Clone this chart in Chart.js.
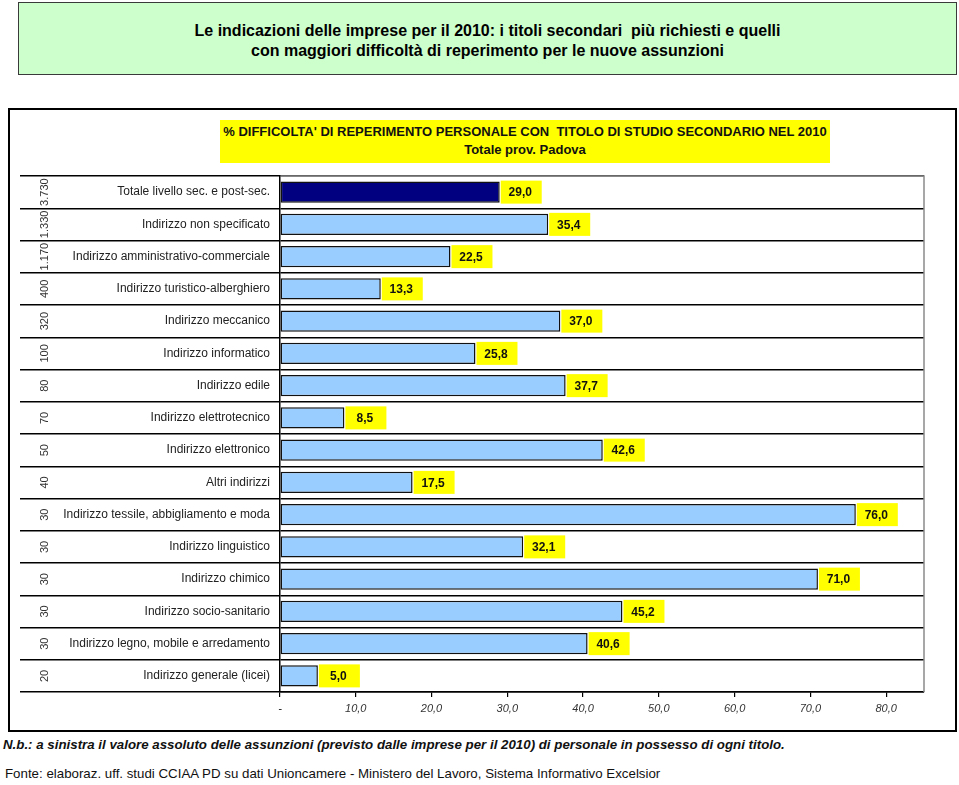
<!DOCTYPE html>
<html>
<head>
<meta charset="utf-8">
<script src="https://cdn.jsdelivr.net/npm/chart.js@4.4.1/dist/chart.umd.min.js"></script>
<style>
  html, body { margin: 0; padding: 0; background: #fff; }
  body { width: 959px; height: 785px; position: relative; overflow: hidden; font-family: "Liberation Sans", Arial, sans-serif; }
  #titlebox { position: absolute; left: 18px; top: 2px; width: 939px; height: 73px; box-sizing: border-box;
    background: #ccffcc; border: 1px solid #3a3a3a; text-align: center; font-weight: bold; font-size: 16px;
    color: #000; line-height: 20px; padding-top: 18px; }
  #frame { position: absolute; left: 8px; top: 108px; width: 949px; height: 624px; box-sizing: border-box; border: 2px solid #000; }
  #frame canvas { position: absolute; left: 0; top: 0; }
  #subtitle { position: absolute; left: 220px; top: 120px; width: 610px; height: 43px; background: #ffff00;
    text-align: center; font-weight: bold; font-size: 13px; line-height: 18px; padding-top: 3px; box-sizing: border-box; color: #111; }
  #nb { position: absolute; left: 3px; top: 737px; font-size: 13.3px; font-weight: bold; font-style: italic; color: #111; white-space: nowrap; }
  #fonte { position: absolute; left: 5px; top: 766px; font-size: 13.3px; color: #111; white-space: nowrap; }
</style>
</head>
<body>
<div id="titlebox">Le indicazioni delle imprese per il 2010: i titoli secondari&nbsp; più richiesti e quelli<br>con maggiori difficoltà di reperimento per le nuove assunzioni</div>
<div id="frame"><canvas id="c" width="945" height="620"></canvas></div>
<div id="subtitle">% DIFFICOLTA' DI REPERIMENTO PERSONALE CON&nbsp; TITOLO DI STUDIO SECONDARIO NEL 2010<br>Totale prov. Padova</div>
<div id="nb">N.b.: a sinistra il valore assoluto delle assunzioni (previsto dalle imprese per il 2010) di personale in possesso di ogni titolo.</div>
<div id="fonte">Fonte: elaboraz. uff. studi CCIAA PD su dati Unioncamere - Ministero del Lavoro, Sistema Informativo Excelsior</div>
<script>
const categories = [
  "Totale livello sec. e post-sec.",
  "Indirizzo non specificato",
  "Indirizzo amministrativo-commerciale",
  "Indirizzo turistico-alberghiero",
  "Indirizzo meccanico",
  "Indirizzo informatico",
  "Indirizzo edile",
  "Indirizzo elettrotecnico",
  "Indirizzo elettronico",
  "Altri indirizzi",
  "Indirizzo tessile, abbigliamento e moda",
  "Indirizzo linguistico",
  "Indirizzo chimico",
  "Indirizzo socio-sanitario",
  "Indirizzo legno, mobile e arredamento",
  "Indirizzo generale (licei)"
];
const difficoltaPct = [29.0, 35.4, 22.5, 13.3, 37.0, 25.8, 37.7, 8.5, 42.6, 17.5, 76.0, 32.1, 71.0, 45.2, 40.6, 5.0];
const assunzioni = ["3.730", "1.330", "1.170", "400", "320", "100", "80", "70", "50", "40", "30", "30", "30", "30", "30", "20"];
const xTicks = [0, 10, 20, 30, 40, 50, 60, 70, 80];

const fmt = v => v.toFixed(1).replace('.', ',');

const decorPlugin = {
  id: 'decor',
  beforeDatasetsDraw(chart) {
    const {ctx, chartArea: a} = chart;
    ctx.save();
    ctx.strokeStyle = '#8a8a8a';
    ctx.lineWidth = 1.5;
    ctx.beginPath();
    ctx.moveTo(a.left + 1, a.top);
    ctx.lineTo(a.right, a.top);
    ctx.lineTo(a.right, a.bottom);
    ctx.stroke();
    ctx.restore();
  },
  afterDatasetsDraw(chart) {
    const {ctx} = chart;
    const meta = chart.getDatasetMeta(0);
    const yScale = chart.scales.y;
    ctx.save();
    meta.data.forEach((bar, i) => {
      const x0 = bar.x + 1, yc = bar.y;
      const w = 41, h = 23;
      ctx.fillStyle = '#ffff00';
      ctx.fillRect(x0, yc - h / 2, w, h);
      ctx.fillStyle = '#111';
      ctx.font = 'bold 12px "Liberation Sans", Arial, sans-serif';
      ctx.textAlign = 'center';
      ctx.textBaseline = 'middle';
      ctx.fillText(fmt(difficoltaPct[i]), x0 + w / 2 - 1, yc + 1);
    });
    // rotated absolute values column
    ctx.font = '11px "Liberation Sans", Arial, sans-serif';
    ctx.fillStyle = '#333';
    ctx.textAlign = 'center';
    ctx.textBaseline = 'middle';
    assunzioni.forEach((t, i) => {
      const y = yScale.getPixelForValue(i);
      ctx.save();
      ctx.translate(35, y);
      ctx.rotate(-Math.PI / 2);
      ctx.fillText(t, 0, 0);
      ctx.restore();
    });
    ctx.restore();
  }
};

new Chart(document.getElementById('c'), {
  type: 'bar',
  data: {
    labels: categories,
    datasets: [{
      data: difficoltaPct,
      backgroundColor: difficoltaPct.map((v, i) => i === 0 ? '#000080' : '#99ccff'),
      borderColor: '#111',
      borderWidth: 1.5,
      borderSkipped: false,
      barPercentage: 0.66,
      categoryPercentage: 1
    }]
  },
  options: {
    indexAxis: 'y',
    responsive: false,
    animation: false,
    events: [],
    layout: { padding: { left: 0, right: 31, top: 66, bottom: 0 } },
    plugins: { legend: { display: false }, title: { display: false }, tooltip: { enabled: false } },
    scales: {
      x: {
        min: 0, max: 85,
        afterFit(s) { s.height = 38; },
        afterBuildTicks(s) { s.ticks = xTicks.map(v => ({ value: v })); },
        ticks: {
          includeBounds: false,
          autoSkip: false,
          maxRotation: 0,
          padding: 5,
          color: '#333',
          font: { family: '"Liberation Sans", Arial, sans-serif', size: 11, style: 'italic' },
          callback: v => v === 0 ? '-' : fmt(v)
        },
        grid: { drawOnChartArea: false, drawTicks: true, tickLength: 5, color: '#000', lineWidth: 1.2 },
        border: { display: true, color: '#000', width: 1.5 }
      },
      y: {
        afterFit(s) { s.width = 270; },
        ticks: {
          autoSkip: false,
          padding: -250,
          color: '#222',
          font: { family: '"Liberation Sans", Arial, sans-serif', size: 12 }
        },
        grid: { offset: true, drawOnChartArea: true, drawTicks: true, tickLength: 260, color: '#000', lineWidth: 1.5 },
        border: { display: true, color: '#000', width: 1.5 }
      }
    }
  },
  plugins: [decorPlugin]
});
</script>
</body>
</html>
